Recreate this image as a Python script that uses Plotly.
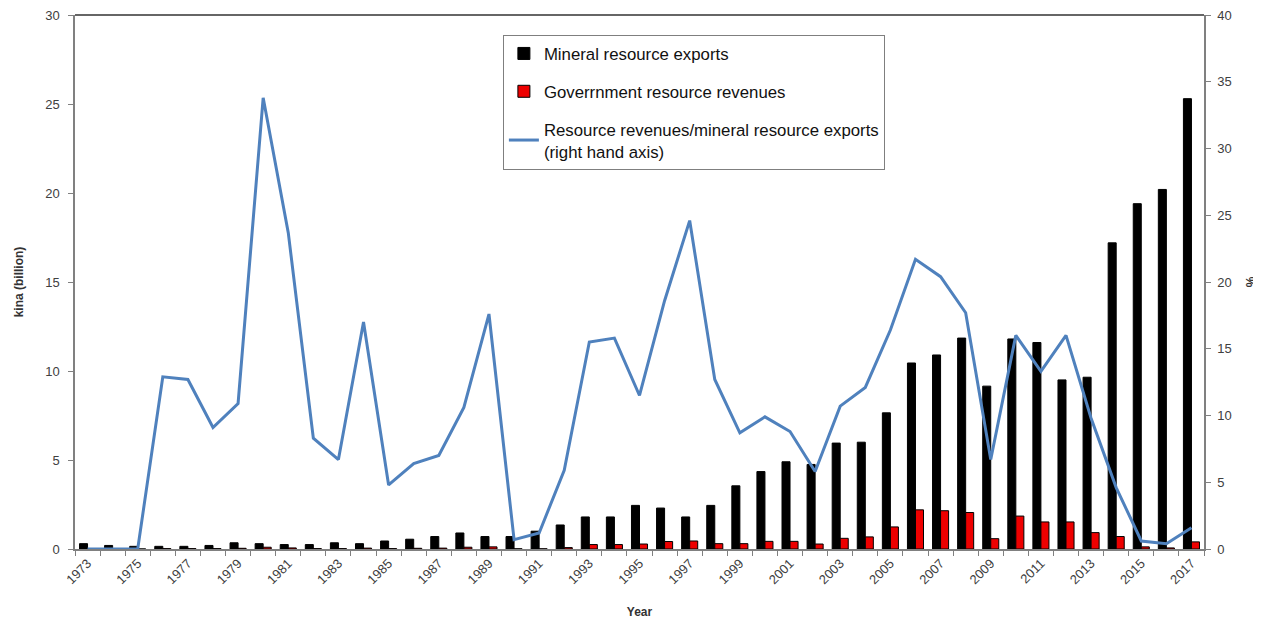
import plotly.graph_objects as go

years = list(range(1973, 2018))

mineral_exports = [0.30, 0.20, 0.15, 0.15, 0.15, 0.20, 0.35, 0.30, 0.25, 0.25,
                   0.35, 0.30, 0.45, 0.55, 0.70, 0.90, 0.70, 0.70, 1.00, 1.35,
                   1.80, 1.80, 2.45, 2.30, 1.80, 2.45, 3.55, 4.35, 4.90, 4.75,
                   5.95, 6.00, 7.65, 10.45, 10.90, 11.85, 9.15, 11.80, 11.60, 9.50,
                   9.65, 17.20, 19.40, 20.20, 25.30]

gov_revenues = [0.00, 0.00, 0.00, 0.02, 0.02, 0.02, 0.04, 0.10, 0.06, 0.02,
                0.02, 0.05, 0.02, 0.04, 0.05, 0.10, 0.12, 0.01, 0.01, 0.08,
                0.25, 0.25, 0.28, 0.42, 0.45, 0.30, 0.30, 0.43, 0.43, 0.28,
                0.60, 0.68, 1.24, 2.20, 2.15, 2.05, 0.58, 1.85, 1.52, 1.52,
                0.92, 0.70, 0.12, 0.06, 0.40]

ratio_pct = [0.0, 0.0, 0.0, 12.9, 12.7, 9.1, 10.9, 33.8, 23.7, 8.3,
             6.7, 17.0, 4.8, 6.4, 7.0, 10.6, 17.6, 0.7, 1.2, 5.9,
             15.5, 15.8, 11.5, 18.6, 24.6, 12.7, 8.7, 9.9, 8.8, 5.8,
             10.7, 12.1, 16.4, 21.7, 20.4, 17.7, 6.7, 16.0, 13.3, 16.0,
             9.8, 4.6, 0.6, 0.4, 1.6]

tick_years = list(range(1973, 2018, 2))
tick_labels = [str(y) for y in tick_years]

fig = go.Figure()
fig.add_trace(go.Bar(
    x=years, y=mineral_exports, name="Mineral resource exports",
    marker=dict(color="#000000", line=dict(color="#000000", width=1)),
    legendgroup="a",
))
fig.add_trace(go.Bar(
    x=years, y=gov_revenues, name="Goverrnment resource revenues",
    marker=dict(color="#ee0000", line=dict(color="#000000", width=1)),
    legendgroup="b",
))
fig.add_trace(go.Scatter(
    x=years, y=ratio_pct, yaxis="y2", mode="lines",
    name="Resource revenues/mineral resource exports<br>(right hand axis)",
    line=dict(color="#4f81bd", width=3),
    legendgroup="c",
))

xfont = dict(family="Liberation Sans, Arial, sans-serif", size=13, color="#404040")
yfont = dict(family="Liberation Sans, Arial, sans-serif", size=13, color="#404040")

fig.update_layout(
    width=1253, height=613,
    margin=dict(l=67, r=57, t=7, b=72, autoexpand=False),
    paper_bgcolor="white", plot_bgcolor="white",
    barmode="group", bargap=0.36, bargroupgap=0,
    font=dict(family="Liberation Sans, Arial, sans-serif", size=12, color="#222222"),
    showlegend=True,
    legend=dict(
        x=0.379, y=0.9625, xanchor="left", yanchor="top",
        bgcolor="white", bordercolor="#7f7f7f", borderwidth=1,
        font=dict(family="Liberation Sans, Arial, sans-serif", size=16.8, color="#111111"),
        traceorder="grouped", tracegroupgap=13, itemwidth=30,
    ),
    xaxis=dict(
        range=[1972.5, 2017.5], automargin=False,
        tickmode="array", tickvals=tick_years, ticktext=tick_labels,
        tickangle=-45, ticks="", tickfont=xfont, ticklabeloverflow="allow",
        showline=True, linecolor="#808080", linewidth=1.5, mirror=False,
        showgrid=False, zeroline=False,
        minor=dict(tick0=1972.5, dtick=1, ticks="outside", ticklen=5,
                   tickcolor="#808080", showgrid=False),
        title=dict(text="<b>Year</b>", font=dict(size=12, color="#333333"), standoff=22),
    ),
    yaxis=dict(
        range=[0, 30], dtick=5, ticks="outside", ticklen=5, tickcolor="#808080",
        tickfont=yfont, showline=True, linecolor="#808080", linewidth=1.5,
        showgrid=False, zeroline=False, automargin=False, ticklabelstandoff=6,
        ticklabeloverflow="allow",
        title=dict(text="<b>kina (billion)</b>", font=dict(size=12, color="#333333"), standoff=19),
    ),
    yaxis2=dict(
        range=[0, 40], dtick=5, overlaying="y", side="right",
        ticks="outside", ticklen=5, tickcolor="#808080",
        tickfont=yfont, showline=True, linecolor="#808080", linewidth=1.5,
        showgrid=False, zeroline=False, automargin=False, ticklabelstandoff=4,
        ticklabeloverflow="allow",
        title=dict(text="<b>%</b>", font=dict(size=12, color="#333333"), standoff=16),
    ),
    shapes=[dict(type="line", xref="paper", yref="paper", x0=0, x1=1, y0=1, y1=1,
                 line=dict(color="#333333", width=1.5))],
)

fig.write_html("out.html")
